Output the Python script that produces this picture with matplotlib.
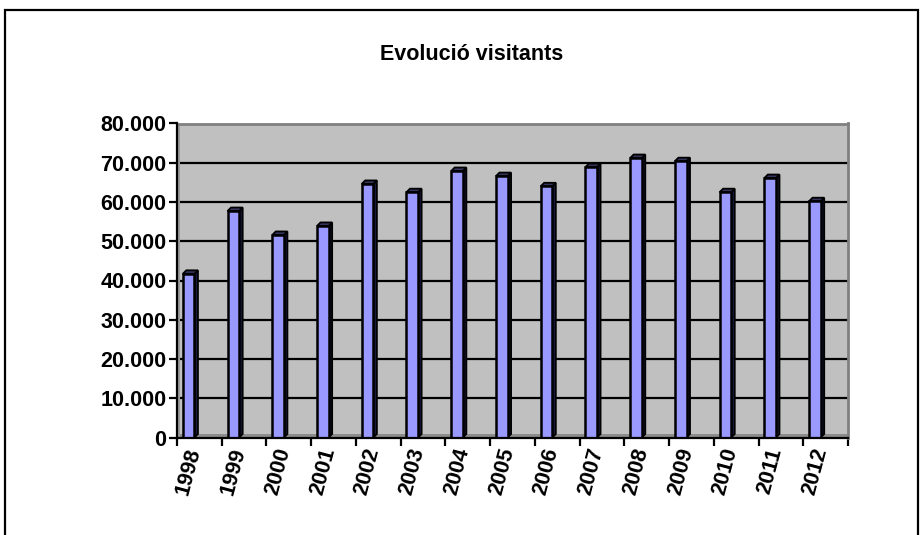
import matplotlib
matplotlib.use("Agg")
import matplotlib.pyplot as plt
from matplotlib.patches import Rectangle, Polygon
import numpy as np

plt.rcParams['font.family'] = ['Liberation Sans', 'DejaVu Sans']
plt.rcParams['font.weight'] = 'bold'

# dades
anys = ['1998', '1999', '2000', '2001', '2002', '2003', '2004', '2005',
        '2006', '2007', '2008', '2009', '2010', '2011', '2012']
visitants = [41700, 57700, 51600, 53900, 64600, 62500, 67900, 66600,
             64000, 68900, 71200, 70400, 62500, 66100, 60200]
y_ticks = [0, 10000, 20000, 30000, 40000, 50000, 60000, 70000, 80000]
y_labels = ['0', '10.000', '20.000', '30.000', '40.000', '50.000',
            '60.000', '70.000', '80.000']
titol = 'Evolució visitants'

W, H = 924, 535
fig = plt.figure(figsize=(W / 100, H / 100), dpi=100)

# marc de la figura
fig.patches.append(Rectangle((5 / W, -0.05), 913 / W, 1.05 - 10 / H,
                             transform=fig.transFigure, fill=False,
                             edgecolor='black', linewidth=1.6))

ax = fig.add_axes([177 / W, (H - 437.5) / H, 671 / W, 314 / H])
ax.set_xlim(0, 15)
ax.set_ylim(0, 80000)
ax.set_facecolor('#C0C0C0')

px_x = 15 / 671.0          # unitats x per pixel
px_y = 80000 / 314.0       # unitats y per pixel

# terra i paret lateral (efecte 3D)
ax.add_patch(Rectangle((0, 0), 15, 4 * px_y, facecolor='#8C8C8C',
                       edgecolor='none', zorder=1))
ax.add_patch(Rectangle((0, 0), 3 * px_x, 80000, facecolor='#9A9A9A',
                       edgecolor='none', zorder=1))

# linies de graella
for v in y_ticks[1:-1]:
    ax.plot([3 * px_x, 15], [v, v], color='black', lw=1.6, zorder=2,
            solid_capstyle='butt')

# barres
w = 0.26
dx = 3.5 * px_x
dy = 3.5 * px_y
for i, v in enumerate(visitants):
    xl = i + 0.26 - w / 2
    xr = xl + w
    ax.add_patch(Polygon([(xr, 0), (xr + dx, dy), (xr + dx, v + dy), (xr, v)],
                         closed=True, facecolor='#1A1A40', edgecolor='black',
                         lw=1.3, zorder=3))
    ax.add_patch(Polygon([(xl, v), (xr, v), (xr + dx, v + dy), (xl + dx, v + dy)],
                         closed=True, facecolor='#33335C', edgecolor='black',
                         lw=1.3, zorder=3))
    ax.add_patch(Rectangle((xl, 0), w, v, facecolor='#9999FF',
                           edgecolor='black', lw=1.8, zorder=4))

# vores
for s in ['top', 'right']:
    ax.spines[s].set_color('#808080')
    ax.spines[s].set_linewidth(2)
for s in ['left', 'bottom']:
    ax.spines[s].set_color('black')
    ax.spines[s].set_linewidth(1.6)
    ax.spines[s].set_zorder(6)

ax.set_yticks(y_ticks)
ax.set_yticklabels(y_labels, fontsize=15.5, fontweight='bold')
ax.tick_params(axis='y', direction='out', length=6, width=1.6, pad=1.5)

ax.set_xticks(np.arange(0, 16))
ax.set_xticklabels([])
ax.set_xticks(np.arange(15) + 0.625, minor=True)
ax.set_xticklabels(anys, minor=True, rotation=75, ha='right', va='top',
                   fontsize=15.5, fontweight='bold')
ax.tick_params(axis='x', which='major', direction='out', length=6, width=1.6)
ax.tick_params(axis='x', which='minor', length=0, pad=6)

fig.text(472 / W, 1 - 54 / H, titol, ha='center', va='center',
         fontsize=15.5, fontweight='bold')

fig.savefig('out.png', dpi=100)
